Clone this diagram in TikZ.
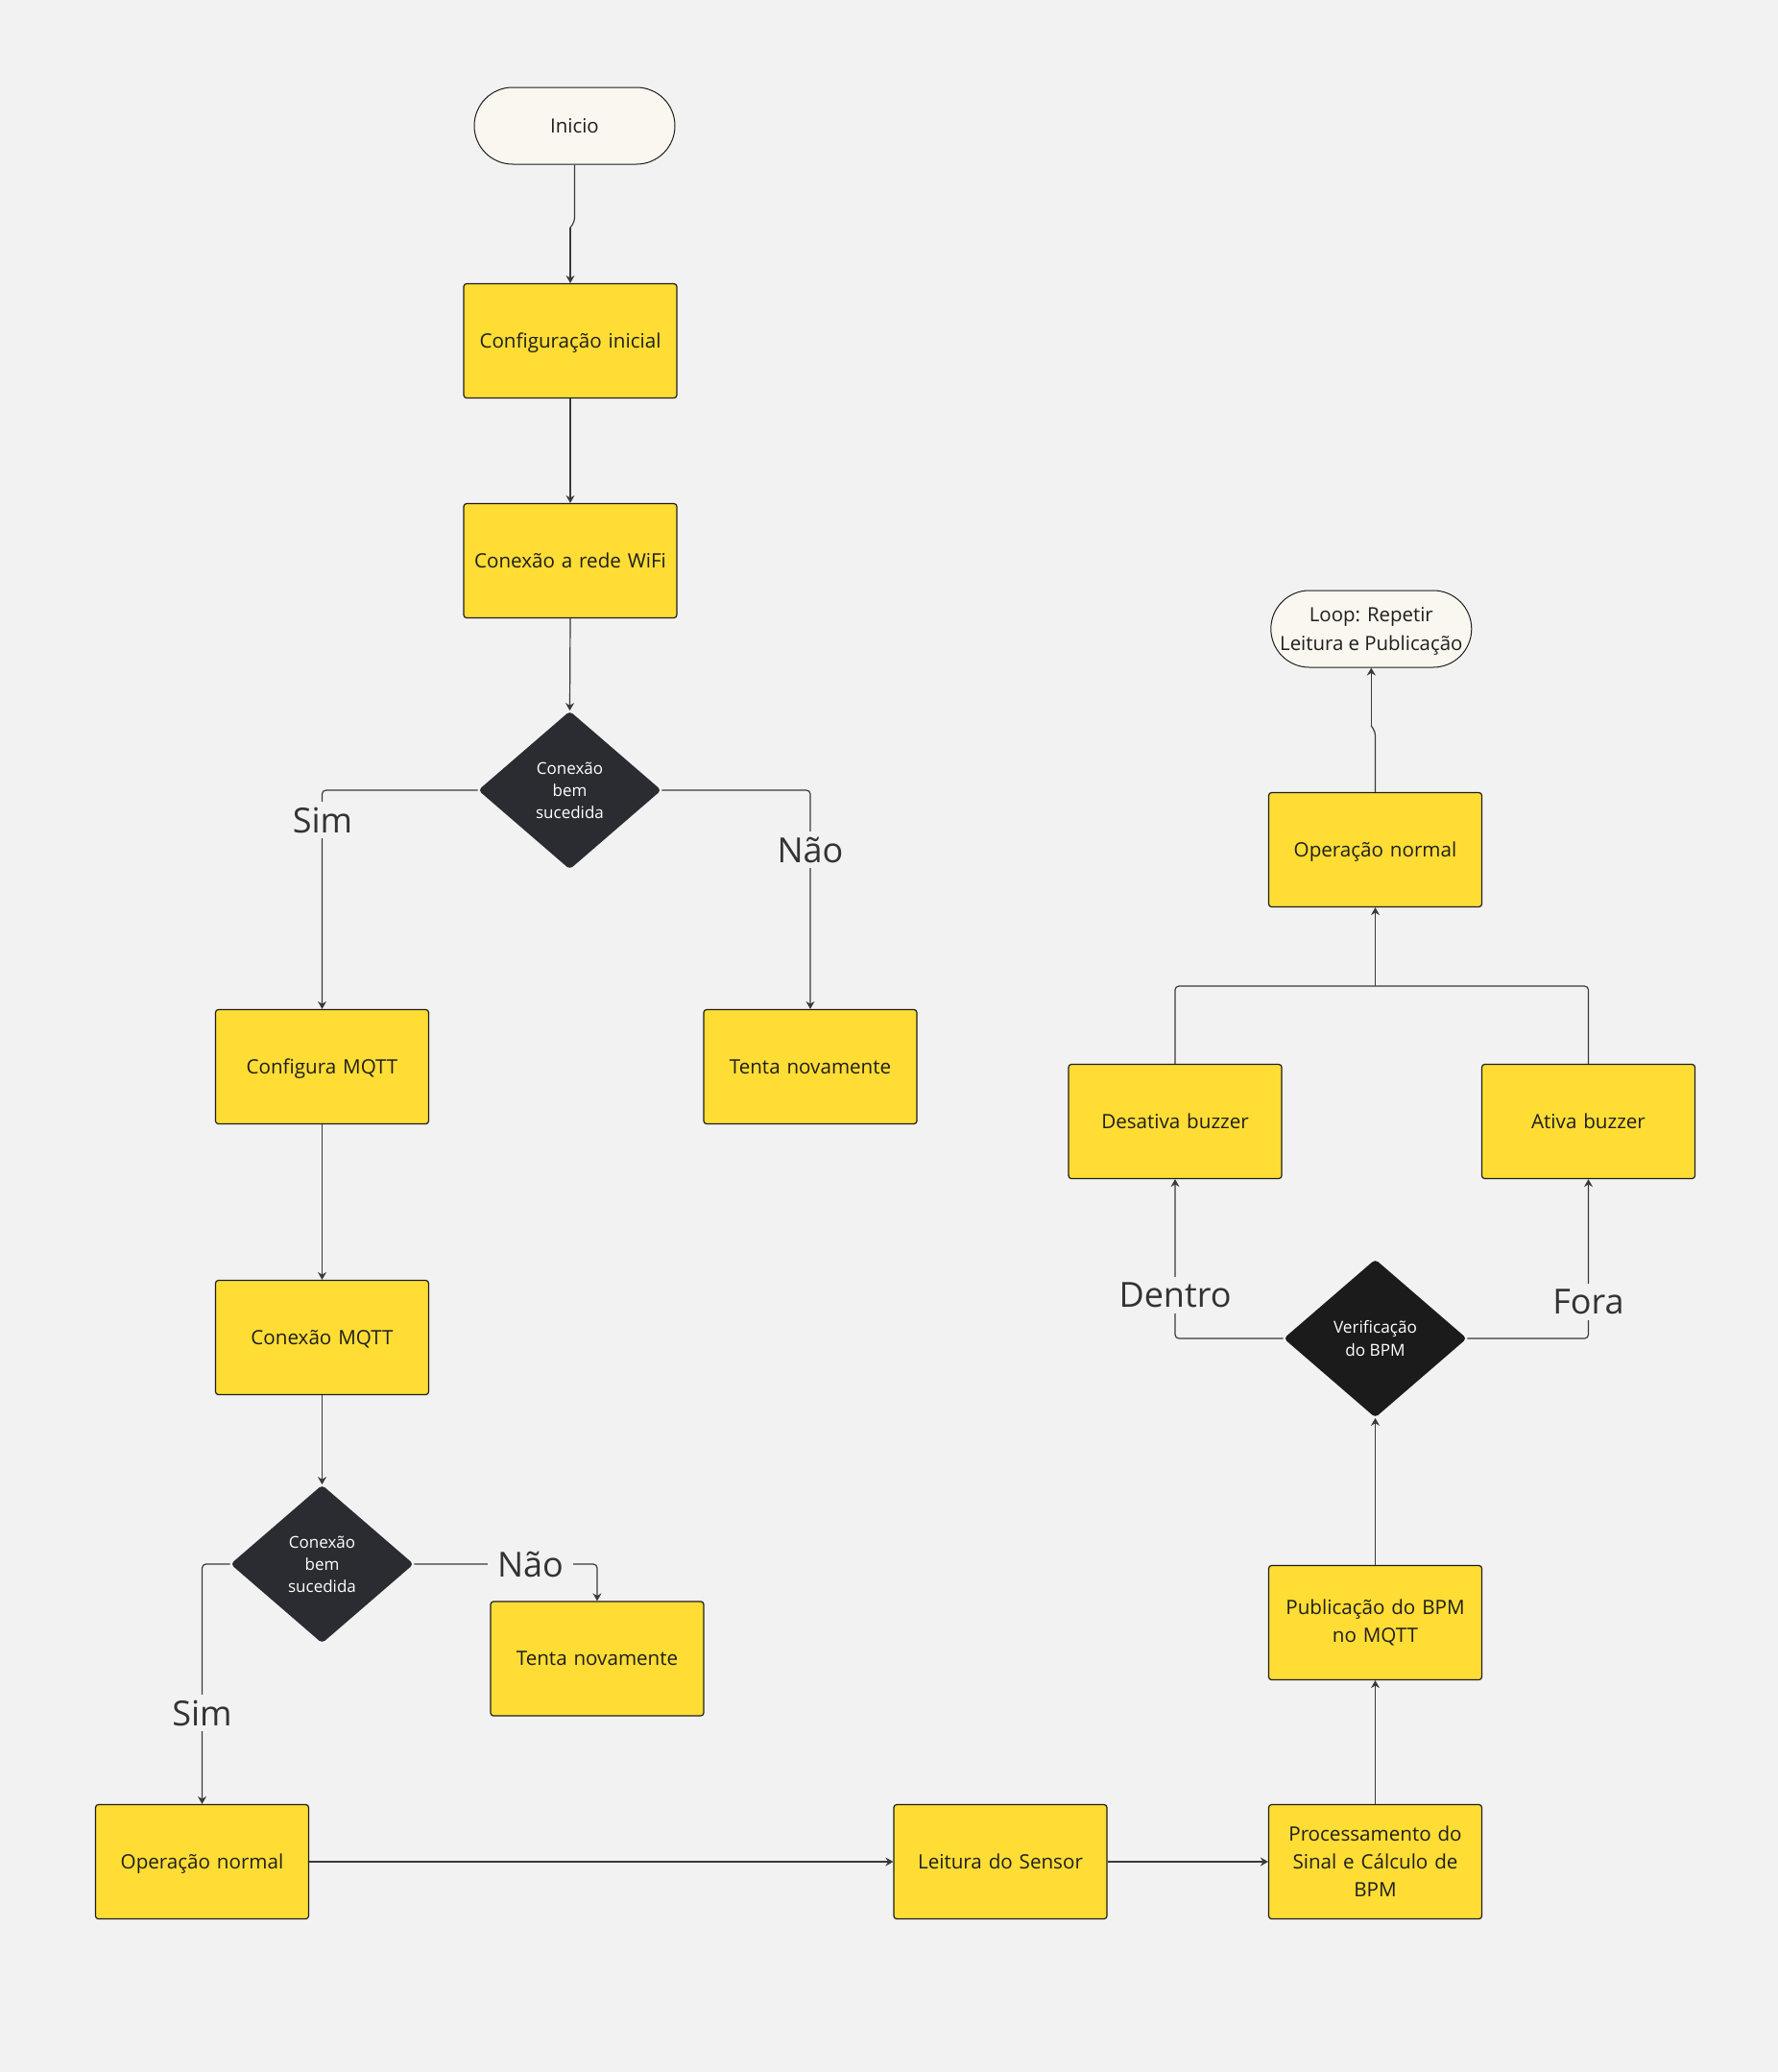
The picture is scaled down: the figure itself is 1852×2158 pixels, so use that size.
\documentclass[tikz,border=0pt]{standalone}
\usepackage{fontspec}
\setmainfont{Open Sans}
\usetikzlibrary{shapes.geometric,shapes.misc,arrows.meta}

\definecolor{bgc}{HTML}{F2F2F2}
\definecolor{boxy}{HTML}{FFDD35}
\definecolor{termc}{HTML}{FAF7F0}
\definecolor{darkd}{HTML}{2B2C31}
\definecolor{blackd}{HTML}{1B1B1B}
\definecolor{linec}{HTML}{3A3A3A}
\definecolor{txtc}{HTML}{1E1E1E}
\definecolor{lblc}{HTML}{333333}

\tikzset{
  procbox/.style={draw=txtc, line width=0.6pt, fill=boxy, rounded corners=1.5pt,
    minimum width=111pt, minimum height=59.5pt, inner sep=2pt, align=center,
    text width=105pt, text depth=0pt, font=\fontsize{10.3}{14.5}\selectfont, text=txtc},
  multiline/.style={text depth={}},
  termbox/.style={draw=txtc, line width=0.5pt, fill=termc, rounded rectangle,
    minimum width=106.5pt, minimum height=40pt, inner sep=1pt, align=center,
    text depth=0pt, font=\fontsize{10.2}{14.6}\selectfont, text=txtc},
  decision/.style={diamond, fill=darkd, rounded corners=2pt, inner sep=0pt,
    minimum width=95.5pt, minimum height=82.5pt, align=center, text=white,
    font=\fontsize{8.5}{11.5}\selectfont},
  conn/.style={draw=linec, line width=0.6pt, rounded corners=2pt},
  arr/.style={conn, -{Stealth[length=4pt,width=4.5pt]}},
  branch/.style={fill=bgc, inner xsep=5pt, inner ysep=3pt, text=lblc,
    font=\fontsize{18}{20}\selectfont}
}

\begin{document}
\begin{tikzpicture}[x=0.5pt, y=-0.5pt]
  % canvas
  \fill[bgc] (0,0) rectangle (1852,2158);
  \useasboundingbox (0,0) rectangle (1852,2158);

  % left column: setup and connection checks
  \node[termbox] (ini) at (598.5,131) {Inicio};
  \node[procbox] (cfg) at (594,355) {Configuração inicial};
  \node[procbox] (wifi) at (594,584) {Conexão a rede WiFi};
  \node[decision] (d1) at (593.5,823) {Conexão\\bem\\sucedida};
  \node[procbox] (mqtt) at (335.5,1111) {Configura MQTT};
  \node[procbox] (t1) at (844,1111) {Tenta novamente};
  \node[procbox] (cmqtt) at (335.5,1393) {Conexão MQTT};
  \node[decision] (d2) at (335.5,1629) {Conexão\\bem\\sucedida};
  \node[procbox] (t2) at (622,1727.5) {Tenta novamente};
  \node[procbox] (op1) at (210.5,1939) {Operação normal};

  % bottom row and right column: measurement loop
  \node[procbox] (leit) at (1042,1939) {Leitura do Sensor};
  \node[procbox, multiline] (proc) at (1432.5,1939) {Processamento do\\Sinal e Cálculo de\\BPM};
  \node[procbox, multiline] (pub) at (1432.5,1690) {Publicação do BPM\\no MQTT};
  \node[decision, fill=blackd, font=\fontsize{8.6}{11.7}\selectfont] (ver) at (1432.5,1394) {Verificação\\do BPM};
  \node[procbox] (des) at (1224,1168) {Desativa buzzer};
  \node[procbox] (ati) at (1654.5,1168) {Ativa buzzer};
  \node[procbox] (op2) at (1432.5,885) {Operação normal};
  \node[termbox] (loop) at (1428.3,655) {Loop: Repetir\\Leitura e Publicação};

  % jog points and merge point
  \coordinate (j1) at (598.5,231);
  \coordinate (j2) at (594,237);
  \coordinate (j3) at (1432.5,762);
  \coordinate (j4) at (1428.3,756);
  \coordinate (m) at (1432.5,1027);

  % connectors
  \draw[conn] (ini.south) -- (j1) -- (j2);
  \draw[arr] (j2) -- (cfg.north);
  \draw[arr] (cfg.south) -- (wifi.north);
  \draw[arr] (wifi.south) -- (d1.north);
  \draw[arr] (d1.west) -| (mqtt.north);
  \draw[arr] (d1.east) -| (t1.north);
  \draw[arr] (mqtt.south) -- (cmqtt.north);
  \draw[arr] (cmqtt.south) -- (d2.north);
  \draw[arr] (d2.west) -| (op1.north);
  \draw[arr] (d2.east) -| (t2.north);
  \draw[arr] (op1.east) -- (leit.west);
  \draw[arr] (leit.east) -- (proc.west);
  \draw[arr] (proc.north) -- (pub.south);
  \draw[arr] (pub.north) -- (ver.south);
  \draw[arr] (ver.west) -| (des.south);
  \draw[arr] (ver.east) -| (ati.south);
  \draw[conn] (des.north) |- (m);
  \draw[conn] (ati.north) |- (m);
  \draw[arr] (m) -- (op2.south);
  \draw[conn] (op2.north) -- (j3) -- (j4);
  \draw[arr] (j4) -- (loop.south);

  % branch labels
  \node[branch] (lsim1) at (336,854) {Sim};
  \node[branch] (lnao1) at (844,885) {Não};
  \node[branch] (lsim2) at (210.5,1784) {Sim};
  \node[branch] (lnao2) at (552.5,1629) {Não};
  \node[branch] (ldentro) at (1224,1349) {Dentro};
  \node[branch] (lfora) at (1654.5,1356) {Fora};
\end{tikzpicture}
\end{document}
